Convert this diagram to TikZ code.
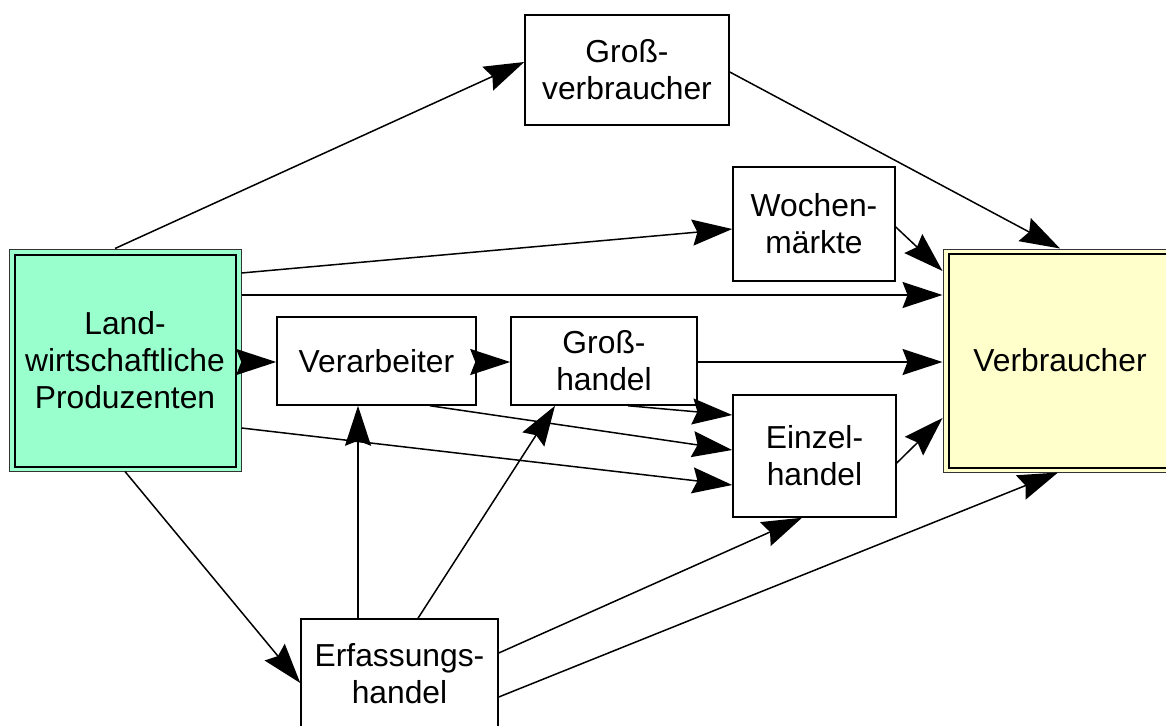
\documentclass[tikz,border=0pt]{standalone}
\usepackage{fontspec}
\setmainfont{Liberation Sans}
\usetikzlibrary{arrows.meta,calc}
\definecolor{prodgreen}{HTML}{99FFCC}
\definecolor{verbyellow}{HTML}{FFFFCC}
\begin{document}
\begin{tikzpicture}[x=1pt,y=-1pt,
  box/.style={draw=black, line width=1.5pt, fill=white, inner sep=0pt, align=center,
    font=\fontsize{31.8}{37}\selectfont},
  dbox/.style={box, draw=black!80, line width=1pt},
  innerline/.style={draw=black, line width=2pt},
  arr/.style={draw=black, line width=1.5pt, -{Stealth[length=40pt,width=26pt,inset=5pt]}}]
\useasboundingbox (0,0) rectangle (1166,725);
\clip (0,0) rectangle (1166,725);
% nodes
\node[dbox, fill=prodgreen, minimum width=232pt, minimum height=222pt] (prod) at (125,360) {Land-\\wirtschaftliche\\Produzenten};
\draw[innerline] ($(prod.north west)+(6,6)$) rectangle ($(prod.south east)+(-6,-5)$);
\node[dbox, fill=verbyellow, minimum width=234pt, minimum height=223pt] (verb) at (1060,360.5) {Verbraucher};
\draw[innerline] ($(verb.north west)+(6,5)$) rectangle ($(verb.south east)+(-6,-5)$);
\node[box, minimum width=204pt, minimum height=110pt] (gv) at (627,70) {Groß-\\verbraucher};
\node[box, minimum width=162pt, minimum height=114pt] (wm) at (814,224) {Wochen-\\märkte};
\node[box, minimum width=199pt, minimum height=88pt] (verarb) at (376.5,361) {Verarbeiter};
\node[box, minimum width=186pt, minimum height=88pt] (gh) at (604,361) {Groß-\\handel};
\node[box, minimum width=163pt, minimum height=122pt] (ez) at (814.5,456) {Einzel-\\handel};
\node[box, minimum width=197pt, minimum height=110pt] (ef) at (399.5,674) {Erfassungs-\\handel};
% connectors
\draw[arr] (prod.north -| 115,0) -- (gv.west |- 0,62);
\draw[arr] (prod.east |- 0,273) -- (wm.west |- 0,229);
\draw[arr] (prod.east |- 0,295) -- (verb.west |- 0,295);
\draw[arr] (prod.east |- 0,362) -- (verarb.west |- 0,362);
\draw[arr] (verarb.east |- 0,362) -- (gh.west |- 0,362);
\draw[arr] (gh.east |- 0,362) -- (verb.west |- 0,362);
\draw[arr] (gh.south -| 628,0) -- (ez.west |- 0,415);
\draw[arr] (verarb.south -| 430,0) -- (ez.west |- 0,450);
\draw[arr] (prod.east |- 0,428) -- (ez.west |- 0,485);
\draw[arr] (prod.south -| 125,0) -- (ef.west |- 0,683);
\draw[arr] (ef.north -| 358,0) -- (verarb.south -| 358,0);
\draw[arr] (ef.north -| 418,0) -- (gh.south -| 555,0);
\draw[arr] (ef.east |- 0,653) -- (ez.south -| 802,0);
\draw[arr] (ef.east |- 0,697) -- (verb.south -| 1058,0);
\draw[arr] (gv.east |- 0,72) -- (verb.north -| 1060,0);
\draw[arr] (wm.east |- 0,227) -- (verb.west |- 0,271);
\draw[arr] (ez.east |- 0,463) -- (verb.west |- 0,418);
\end{tikzpicture}
\end{document}
